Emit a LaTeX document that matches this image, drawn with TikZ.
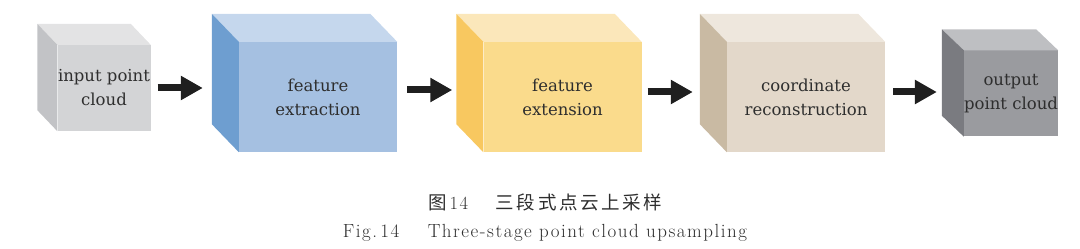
\documentclass[tikz,border=0pt]{standalone}
\usepackage{fontspec}
\usetikzlibrary{arrows.meta,positioning}
\usepackage{xcolor}
\newfontfamily\cjk{Noto Sans CJK SC}[LetterSpace=14]
\newfontfamily\capfont{Latin Modern Roman}[LetterSpace=8]
\newfontfamily\boxfont{DejaVu Serif}

\definecolor{textgray}{HTML}{2E2E2E}
\definecolor{gin-side}{HTML}{C2C3C6}
\definecolor{gin-front}{HTML}{D3D4D6}
\definecolor{gin-top}{HTML}{E3E3E4}
\definecolor{blu-side}{HTML}{6E9ED0}
\definecolor{blu-front}{HTML}{A5C0E1}
\definecolor{blu-top}{HTML}{C5D7ED}
\definecolor{yel-side}{HTML}{F8C860}
\definecolor{yel-front}{HTML}{FADB8C}
\definecolor{yel-top}{HTML}{FBE7BA}
\definecolor{bei-side}{HTML}{C9BAA3}
\definecolor{bei-front}{HTML}{E3D8CA}
\definecolor{bei-top}{HTML}{EEE7DD}
\definecolor{gout-side}{HTML}{7A7B80}
\definecolor{gout-front}{HTML}{9A9B9F}
\definecolor{gout-top}{HTML}{BEBFC2}

\begin{document}
\begin{tikzpicture}[
            x=1pt, y=1pt,
            face/.style={rectangle, align=center, inner sep=0pt, text=textgray, font=\boxfont\fontsize{16.5}{24}\selectfont},
            bigface/.style={face, minimum width=158pt, minimum height=110pt},
            smallface/.style={face, minimum width=93pt, minimum height=86pt},
            caption/.style={inner sep=0pt, text=textgray},
            arrow/.style={-{Triangle[length=22pt, width=23pt]}, line width=7pt, color=black!88}
        ]
            \useasboundingbox (0,0) rectangle (1080,249);

            % --- FRONT FACES ---
            \node[smallface, fill=gin-front] (inpc) at (104,161) {input point\\cloud};
            \node[bigface, fill=blu-front] (fext) at (318,152) {feature\\extraction};
            \node[bigface, fill=yel-front] (fexp) at (562.5,152) {feature\\extension};
            \node[bigface, fill=bei-front] (crec) at (806,152) {coordinate\\reconstruction};
            \node[smallface, fill=gout-front] (outpc) at (1011,155.5) {output\\point cloud};

            % --- TOP AND SIDE FACES ---
            \foreach \n/\c/\dx/\dy in {inpc/gin/20/21, fext/blu/27/28, fexp/yel/27/28, crec/bei/27/28, outpc/gout/22/21} {
                \fill[\c-top] (\n.north west) -- ++(-\dx,\dy) -- ([shift={(-\dx,\dy)}]\n.north east) -- (\n.north east) -- cycle;
                \fill[\c-side] (\n.north west) -- ++(-\dx,\dy) -- ([shift={(-\dx,\dy)}]\n.south west) -- (\n.south west) -- cycle;
            }

            % --- ARROWS ---
            \foreach \a/\b/\s/\e/\y in {inpc/fext/7/36/0, fext/fexp/10/31/7, fexp/crec/6/34/5, crec/outpc/8/27/5}
                \draw[arrow, shorten <=\s pt, shorten >=\e pt] ([yshift=\y pt]\a.east) -- ([yshift=\y pt]\a.east -| \b.west);

            % --- CAPTION ---
            \node[caption, font=\cjk\fontsize{18.5}{18.5}\selectfont] (capcn) at (545,47) {图\,{\capfont 14}\hspace{1.5em}三段式点云上采样};
            \node[caption, font=\capfont\fontsize{19}{19}\selectfont, below=13pt of capcn] (capen) {Fig.\,14\hspace{1.5em}Three-stage point cloud upsampling};
        \end{tikzpicture}
\end{document}
